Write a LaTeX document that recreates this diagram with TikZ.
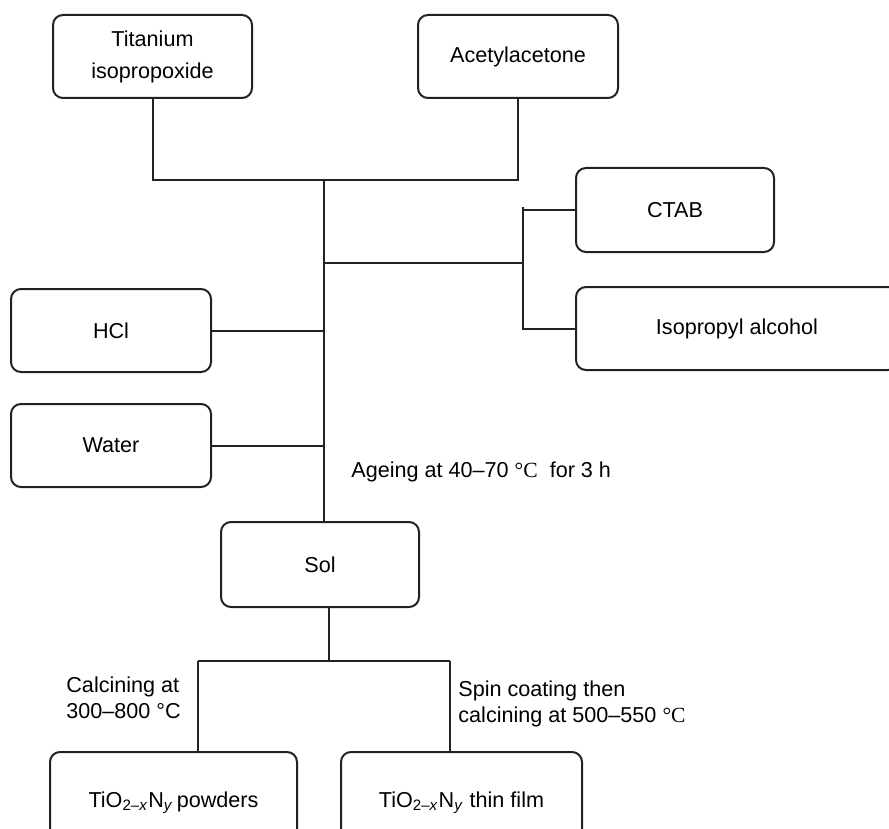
\documentclass[tikz,border=0pt]{standalone}
\usepackage{fontspec}
\setmainfont{Liberation Sans}
\newfontfamily\degfont{Liberation Serif}
\usepackage{tikz}
\usetikzlibrary{positioning,calc}
\definecolor{ink}{RGB}{34,34,34}

\begin{document}
\begin{tikzpicture}[
  x=0.5pt,y=-0.5pt,
  font=\fontsize{10.8}{16}\selectfont,
  box/.style={draw=ink,line width=1pt,rounded corners=5pt,align=center,inner sep=0pt},
  link/.style={draw=ink,line width=1pt},
  note/.style={anchor=west,align=left,inner sep=0pt,font=\fontsize{10.8}{13}\selectfont},
]
\useasboundingbox (0,0) rectangle (889,829);

% starting materials
\node[box,minimum width=99.5pt,minimum height=41.5pt] (ti) at (152.5,56.5) {Titanium\\isopropoxide};
\node[box,minimum width=100pt,minimum height=41.5pt] (acac) at (518,56.5) {Acetylacetone};
\node[box,minimum width=99pt,minimum height=42pt] (ctab) at (675,210) {CTAB};
\node[box,minimum width=161pt,minimum height=41.5pt] (iso) at (737,328.5) {Isopropyl alcohol};
\node[box,minimum width=100pt,minimum height=41.5pt] (hcl) at (111,330.5) {HCl};
\node[box,minimum width=100pt,minimum height=41.5pt] (water) at (111,445.5) {Water};

% sol and products
\node[box,minimum width=99pt,minimum height=42.5pt] (sol) at (320,564.5) {Sol};
\node[box,minimum width=123.5pt,minimum height=51pt] (pow) at (173.5,803) {TiO\textsubscript{2–\textit{x}}N\textsubscript{\textit{y}}\,powders};
\node[box,minimum width=120.5pt,minimum height=51pt] (film) at (461.5,803) {TiO\textsubscript{2–\textit{x}}N\textsubscript{\textit{y}} thin film};

% joints
\coordinate (top) at (324,180);
\coordinate (jr) at (523,263);
\coordinate (jrtop) at (523,207);
\coordinate (split) at (329,661);
\coordinate (bl) at (198,661);
\coordinate (br) at (450,661);

\draw[link] (ti.south) |- (top) -| (acac.south);
\draw[link] (top) -- (top |- sol.north);
\draw[link] (top |- jr) -- (jr);
\draw[link] (ctab.west) -- ++(-53,0);
\draw[link] (jrtop) |- (iso.west);
\draw[link] (hcl.east) -- (hcl.east -| top);
\draw[link] (water.east) -- (water.east -| top);
\draw[link] (sol.south -| split) -- (split);
\draw[link] (bl) -- (br);
\draw[link] (bl) -- (bl |- pow.north);
\draw[link] (br) -- (br |- film.north);

\node[note] (ageing) at (351,472) {Ageing at 40–70 {\degfont °C}\ \ for 3 h};
\node[note] (calc) at (66,698) {Calcining at\\300–800 °C};
\node[note] (spin) at (458,704) {Spin coating then\\calcining at 500–550 {\degfont °C}};
\end{tikzpicture}
\end{document}
